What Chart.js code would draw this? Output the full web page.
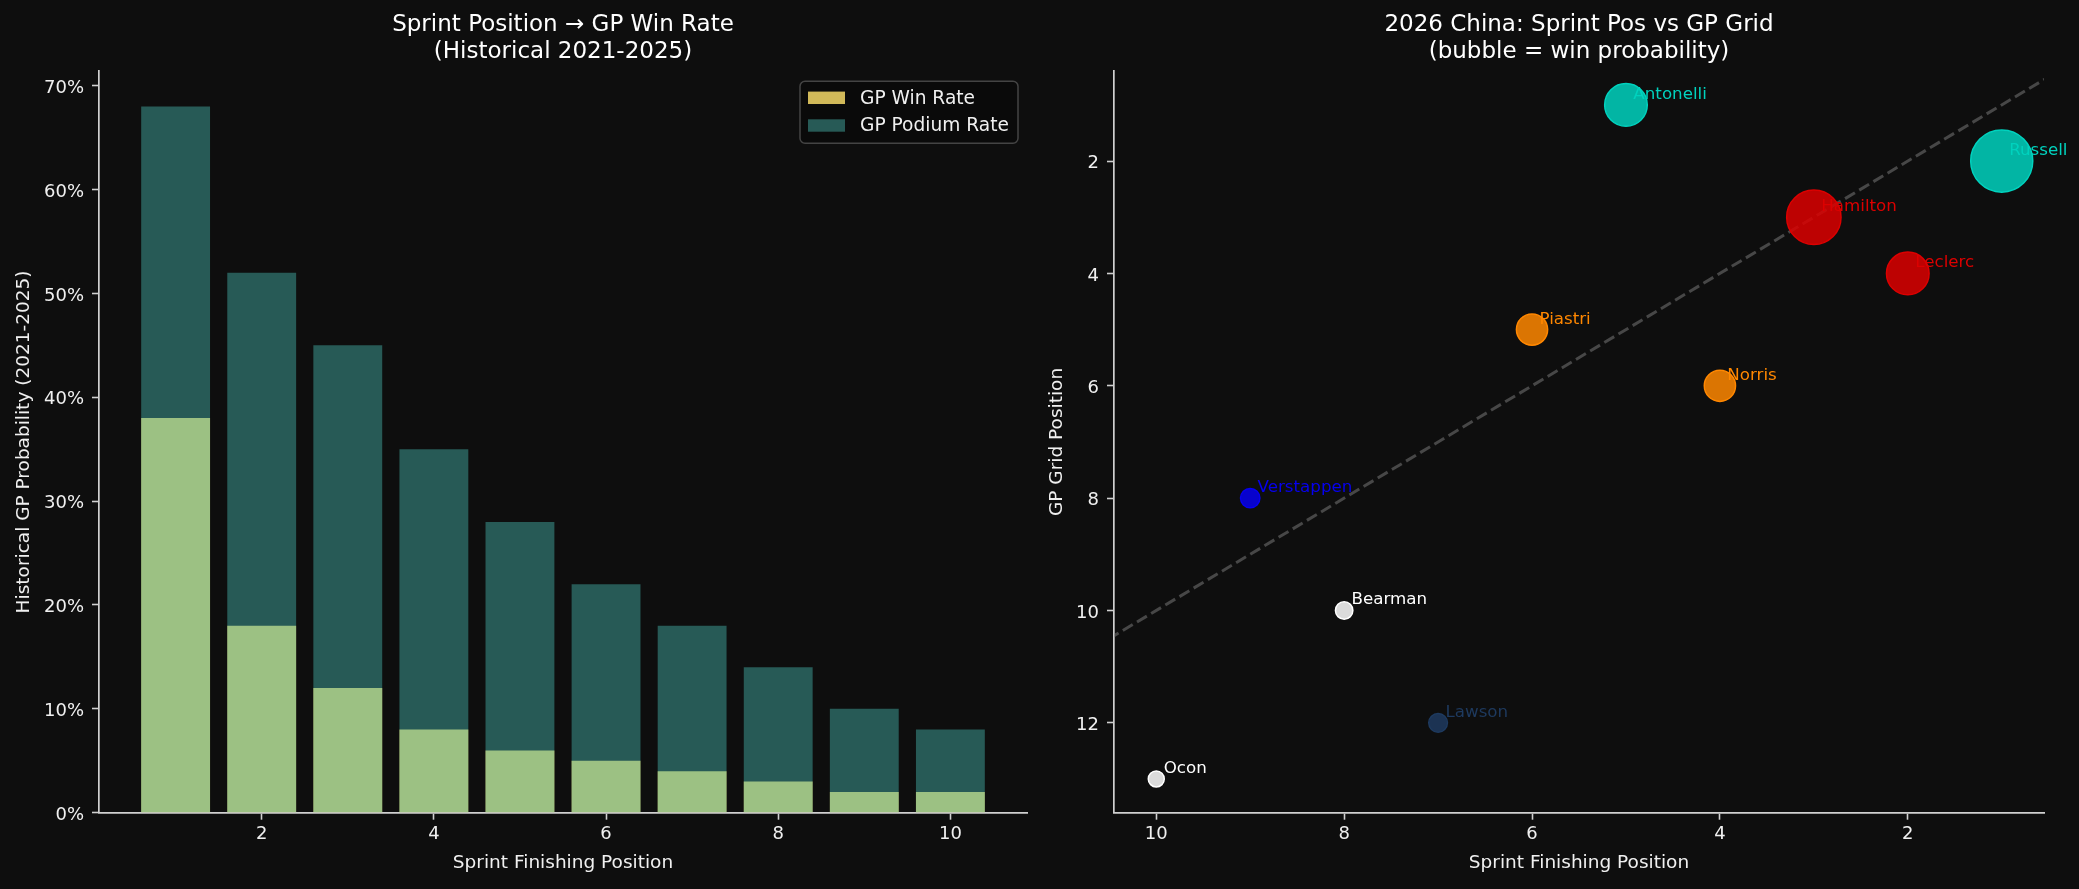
<!DOCTYPE html>
<html>
<head>
<meta charset="utf-8">
<script src="https://cdn.jsdelivr.net/npm/chart.js@4.4.0/dist/chart.umd.min.js"></script>
<style>
html, body { margin: 0; padding: 0; background: #0e0e0e; }
body { width: 2079px; height: 889px; position: relative; overflow: hidden; }
canvas { position: absolute; top: 0; }
#histChart { left: 0; }
#gridChart { left: 1040px; }
</style>
</head>
<body>
<canvas id="histChart" width="1040" height="889"></canvas>
<canvas id="gridChart" width="1039" height="889"></canvas>
<script>
// --- left panel: historical rates by sprint position (percent)
var sprintPositions = [1, 2, 3, 4, 5, 6, 7, 8, 9, 10];
var gpWinRate = [38, 18, 12, 8, 6, 5, 4, 3, 2, 2];
var gpPodiumRate = [68, 52, 45, 35, 28, 22, 18, 14, 10, 8];

// --- right panel: 2026 China
var drivers = ['Russell', 'Leclerc', 'Hamilton', 'Norris', 'Antonelli', 'Piastri', 'Lawson', 'Bearman', 'Verstappen', 'Ocon'];
var sprintPos = [1, 2, 3, 4, 5, 6, 7, 8, 9, 10];
var gpGrid = [2, 4, 3, 6, 1, 5, 12, 10, 8, 13];
var winProb = [0.30, 0.13, 0.225, 0.06, 0.13, 0.06, 0.008, 0.004, 0.01, 0.0];
var teamColors = ['#00D2BE', '#DC0000', '#DC0000', '#FF8700', '#00D2BE', '#FF8700', '#1E3A5F', '#FFFFFF', '#0600EF', '#FFFFFF'];
var refLine = [0, 11];   // y = x guide

var FONT = '"DejaVu Sans", "Liberation Sans", sans-serif';
var TEXT = '#f0f0f0';
var AXIS = '#d0d0d0';

function hexToRgba(hex, a) {
    var n = parseInt(hex.slice(1), 16);
    return 'rgba(' + ((n >> 16) & 255) + ',' + ((n >> 8) & 255) + ',' + (n & 255) + ',' + a + ')';
}

function axis(opts) {
    var s = {
        type: 'linear',
        min: opts.min,
        max: opts.max,
        reverse: !!opts.reverse,
        offset: false,
        grid: { display: true, drawOnChartArea: false, drawTicks: true, tickLength: 7,
                tickColor: AXIS, tickWidth: 1.6, offset: false },
        border: { display: true, color: AXIS, width: 1.7 },
        ticks: {
            stepSize: 2,
            includeBounds: false,
            color: TEXT,
            padding: opts.pad,
            labelOffset: opts.labelOffset || 0,
            font: { family: FONT, size: 18 }
        },
        title: {
            display: true,
            text: opts.title,
            color: TEXT,
            font: { family: FONT, size: 18.5, lineHeight: 1.2 },
            padding: opts.titlePad
        },
        afterFit: opts.afterFit
    };
    if (opts.callback) s.ticks.callback = opts.callback;
    if (opts.stepSize) s.ticks.stepSize = opts.stepSize;
    return s;
}

function titleOpts(lines) {
    return {
        display: true,
        fullSize: false,
        text: lines,
        color: '#ffffff',
        font: { family: FONT, size: 23, weight: 'normal', lineHeight: 1.2 },
        padding: { top: 0, bottom: 5 }
    };
}

function roundRect(ctx, x, y, w, h, r) {
    ctx.beginPath();
    ctx.moveTo(x + r, y);
    ctx.arcTo(x + w, y, x + w, y + h, r);
    ctx.arcTo(x + w, y + h, x, y + h, r);
    ctx.arcTo(x, y + h, x, y, r);
    ctx.arcTo(x, y, x + w, y, r);
    ctx.closePath();
}

// framed legend in the upper right of the plot area
var boxLegend = {
    id: 'boxLegend',
    afterDraw: function(chart) {
        var ctx = chart.ctx;
        var area = chart.chartArea;
        var w = 218, h = 62;
        var x = area.right - 9 - w, y = area.top + 10;
        ctx.save();
        roundRect(ctx, x, y, w, h, 5);
        ctx.fillStyle = '#0a0a0a';
        ctx.fill();
        ctx.lineWidth = 1.5;
        ctx.strokeStyle = '#444444';
        ctx.stroke();
        ctx.font = '18.6px ' + FONT;
        ctx.textBaseline = 'middle';
        chart.data.datasets.forEach(function(ds, i) {
            var cy = y + 16.6 + i * 27.7;
            ctx.fillStyle = i === 0 ? ds.backgroundColor : 'rgb(39,90,86)';
            ctx.fillRect(x + 8, cy - 6.2, 37, 12.4);
            ctx.fillStyle = TEXT;
            ctx.fillText(ds.label, x + 60, cy + 1);
        });
        ctx.restore();
    }
};

new Chart(document.getElementById('histChart'), {
    type: 'bar',
    data: {
        datasets: [{
            label: 'GP Win Rate',
            data: sprintPositions.map(function(p, i) { return { x: p, y: gpWinRate[i] }; }),
            backgroundColor: 'rgb(209,185,89)',
            grouped: false,
            order: 2,
            inflateAmount: 0,
            barPercentage: 0.8,
            categoryPercentage: 1
        }, {
            label: 'GP Podium Rate',
            data: sprintPositions.map(function(p, i) { return { x: p, y: gpPodiumRate[i] }; }),
            backgroundColor: 'rgba(78,205,196,0.4)',
            grouped: false,
            order: 1,
            inflateAmount: 0,
            barPercentage: 0.8,
            categoryPercentage: 1
        }]
    },
    options: {
        responsive: false,
        animation: false,
        events: [],
        layout: { padding: { top: 11, right: 13, bottom: 0, left: 0 } },
        plugins: {
            legend: { display: false },
            tooltip: { enabled: false },
            title: titleOpts(['Sprint Position \u2192 GP Win Rate', '(Historical 2021-2025)'])
        },
        scales: {
            x: axis({ min: 0.11, max: 10.89, pad: 4, title: 'Sprint Finishing Position',
                      titlePad: { top: 0, bottom: 15 },
                      afterFit: function(s) { s.height = 76.3; } }),
            y: axis({ min: 0, max: 71.4, stepSize: 10, pad: 8, labelOffset: 2.5,
                      title: 'Historical GP Probability (2021-2025)',
                      titlePad: { top: 13, bottom: 0 },
                      callback: function(v) { return v + '%'; },
                      afterFit: function(s) { s.width = 99; } })
        }
    },
    plugins: [boxLegend]
});

// driver names next to the bubbles
var driverLabels = {
    id: 'driverLabels',
    afterDatasetsDraw: function(chart) {
        var ctx = chart.ctx;
        var meta = chart.getDatasetMeta(1);
        ctx.save();
        ctx.font = '16.7px ' + FONT;
        ctx.textAlign = 'left';
        ctx.textBaseline = 'alphabetic';
        meta.data.forEach(function(pt, i) {
            ctx.fillStyle = teamColors[i];
            ctx.fillText(drivers[i], pt.x + 7.4, pt.y - 6);
        });
        ctx.restore();
    }
};

new Chart(document.getElementById('gridChart'), {
    type: 'bubble',
    data: {
        datasets: [{
            type: 'line',
            data: refLine.map(function(v) { return { x: v, y: v }; }),
            borderColor: 'rgba(128,128,128,0.5)',
            borderWidth: 3,
            borderDash: [11.5, 5],
            pointRadius: 0,
            fill: false,
            order: 2
        }, {
            type: 'bubble',
            data: drivers.map(function(d, i) {
                return { x: sprintPos[i], y: gpGrid[i], r: Math.sqrt(64 + winProb[i] * 3000) };
            }),
            backgroundColor: teamColors.map(function(c) { return hexToRgba(c, 0.85); }),
            borderColor: teamColors,
            borderWidth: 1.5,
            order: 1
        }]
    },
    options: {
        responsive: false,
        animation: false,
        events: [],
        layout: { padding: { top: 11, right: 35, bottom: 0, left: 0 } },
        plugins: {
            legend: { display: false },
            tooltip: { enabled: false },
            title: titleOpts(['2026 China: Sprint Pos vs GP Grid', '(bubble = win probability)'])
        },
        scales: {
            x: axis({ min: 0.55, max: 10.45, reverse: true, pad: 4, title: 'Sprint Finishing Position',
                      titlePad: { top: 0, bottom: 15 },
                      afterFit: function(s) { s.height = 76.3; } }),
            y: axis({ min: 0.4, max: 13.6, reverse: true, pad: 8, labelOffset: 2.5, title: 'GP Grid Position',
                      titlePad: { top: 6, bottom: 0 },
                      afterFit: function(s) { s.width = 74; } })
        }
    },
    plugins: [driverLabels]
});
</script>
</body>
</html>
